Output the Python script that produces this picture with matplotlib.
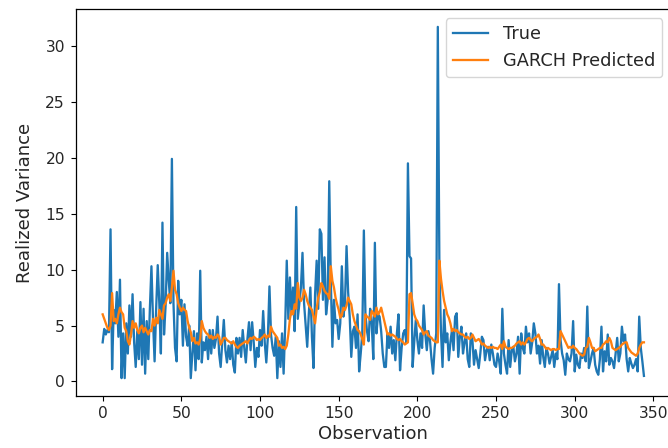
import matplotlib
matplotlib.use("Agg")
import matplotlib.pyplot as plt
import numpy as np

true_values = [
    3.5, 4.7, 4.2, 4.6, 4.4, 13.6, 1.1, 6.4, 5.2, 8.0,
    4.0, 9.1, 0.3, 4.3, 0.3, 5.2, 2.5, 6.8, 4.0, 7.8,
    3.5, 1.3, 4.5, 2.0, 7.1, 1.5, 6.5, 0.7, 5.4, 2.0,
    6.5, 10.3, 5.5, 1.8, 6.5, 10.4, 7.0, 2.5, 14.2, 4.2,
    6.8, 11.5, 9.0, 7.0, 19.9, 7.0, 3.0, 1.8, 9.0, 6.0,
    7.3, 3.2, 6.9, 4.0, 3.2, 5.0, 0.3, 2.5, 4.5, 1.0,
    4.3, 2.0, 9.9, 1.7, 3.5, 2.8, 4.0, 2.0, 4.6, 2.5,
    4.6, 3.0, 3.8, 5.8, 2.5, 1.3, 3.5, 5.5, 2.8, 1.7,
    3.2, 2.0, 3.5, 1.5, 0.8, 3.9, 2.5, 3.9, 2.2, 4.6,
    3.0, 1.7, 3.8, 5.3, 2.8, 5.3, 3.5, 1.3, 3.0, 2.2,
    4.6, 3.2, 6.3, 3.5, 1.7, 4.0, 8.5, 4.2, 3.0, 2.3,
    4.0, 0.3, 3.6, 1.3, 4.3, 0.7, 5.0, 10.8, 5.6, 9.3,
    6.0, 8.4, 4.5, 15.6, 5.6, 7.0, 8.4, 11.5, 7.0, 5.0,
    3.1, 6.0, 8.4, 4.0, 1.2, 7.8, 10.8, 6.5, 13.6, 13.2,
    7.3, 11.1, 6.0, 7.3, 17.9, 9.0, 3.1, 7.3, 5.2, 5.5,
    3.8, 5.2, 10.3, 5.8, 7.0, 12.1, 8.0, 5.8, 2.2, 4.5,
    4.9, 3.0, 6.0, 0.9, 2.5, 4.3, 13.5, 6.0, 4.5, 3.6,
    6.5, 5.2, 2.0, 12.4, 4.3, 6.0, 5.8, 4.5, 2.5, 1.3,
    1.3, 4.3, 3.0, 4.9, 2.5, 3.7, 1.9, 4.3, 6.0, 1.0,
    3.0, 4.3, 4.6, 3.5, 19.5, 11.2, 11.0, 1.3, 3.5, 5.5,
    3.7, 2.5, 4.3, 3.0, 6.8, 4.3, 2.8, 4.5, 3.7, 2.0,
    0.7, 3.0, 4.3, 31.7, 10.3, 4.5, 1.3, 6.4, 3.5, 4.3,
    1.9, 3.5, 4.6, 2.8, 5.8, 6.1, 2.2, 4.0, 4.9, 2.5,
    3.5, 4.3, 2.0, 1.3, 4.3, 3.7, 1.5, 2.8, 2.0, 1.2,
    2.5, 4.0, 3.7, 1.9, 2.8, 3.1, 1.9, 3.3, 2.5, 1.5,
    1.3, 2.5, 1.8, 0.7, 6.5, 2.5, 1.5, 0.7, 3.7, 1.3,
    2.8, 3.1, 1.8, 2.5, 4.0, 0.7, 4.3, 3.0, 2.5, 4.9,
    3.5, 4.3, 2.5, 3.5, 5.2, 4.3, 2.5, 3.2, 1.6, 3.7,
    2.2, 1.3, 3.0, 2.5, 1.6, 2.2, 2.8, 1.3, 2.5, 2.0,
    8.7, 3.7, 2.5, 1.9, 0.6, 2.5, 2.0, 1.8, 2.5, 5.4,
    0.9, 2.4, 1.5, 1.2, 2.5, 2.1, 3.0, 1.8, 6.7, 1.2,
    1.8, 2.5, 3.0, 1.5, 0.9, 0.6, 2.0, 4.9, 0.9, 2.7,
    1.8, 4.2, 1.5, 2.1, 1.8, 1.2, 2.5, 3.9, 1.8, 2.5,
    4.9, 3.6, 4.2, 2.0, 0.9, 2.1, 1.6, 1.2, 1.5, 2.0,
    0.9, 5.8, 3.0, 1.8, 0.5,
]

garch_predicted = [
    6.0, 5.6, 5.2, 4.8, 4.6, 5.0, 7.9, 5.4, 5.6, 5.2,
    6.0, 6.6, 6.2, 6.0, 4.8, 4.5, 3.6, 3.3, 4.2, 5.4,
    4.8, 5.2, 4.6, 4.3, 4.8, 5.0, 4.4, 4.8, 4.5, 4.2,
    4.6, 4.5, 5.6, 5.0, 5.7, 5.2, 6.4, 6.0, 5.6, 6.8,
    7.0, 7.5, 7.8, 7.2, 8.4, 9.9, 8.2, 7.8, 7.0, 6.6,
    6.3, 6.6, 6.4, 6.3, 5.4, 4.8, 4.4, 3.6, 3.9, 3.4,
    3.5, 3.3, 3.8, 5.4, 4.8, 4.5, 4.3, 4.2, 3.9, 4.1,
    3.8, 4.0, 3.9, 4.2, 4.0, 3.3, 3.6, 3.9, 3.9, 3.7,
    3.6, 3.5, 3.4, 3.6, 3.3, 3.1, 3.0, 3.2, 3.3, 3.4,
    3.5, 3.6, 3.4, 3.7, 3.9, 3.8, 4.0, 3.9, 3.7, 3.8,
    3.7, 3.9, 4.0, 4.2, 3.9, 4.1, 4.0, 4.9, 4.5, 4.3,
    4.1, 3.9, 3.2, 3.3, 3.0, 3.1, 2.9, 3.2, 4.2, 5.6,
    6.3, 6.0, 6.9, 6.5, 8.8, 7.5, 7.2, 7.5, 8.2, 7.8,
    7.2, 6.8, 6.6, 6.4, 5.8, 5.2, 6.5, 7.5, 8.0, 8.8,
    8.5, 8.1, 7.9, 7.8, 7.4, 10.3, 9.0, 8.4, 7.5, 6.9,
    6.4, 5.7, 5.9, 6.6, 6.4, 6.8, 7.5, 7.2, 6.9, 6.0,
    5.4, 5.0, 4.6, 4.5, 4.2, 3.8, 3.3, 6.0, 5.8, 5.7,
    5.5, 6.3, 6.1, 5.8, 6.6, 6.0, 6.2, 6.6, 6.0, 5.4,
    4.8, 4.2, 4.3, 4.1, 4.2, 4.1, 4.0, 3.8, 3.7, 3.8,
    3.6, 3.5, 3.3, 3.4, 3.5, 7.8, 7.9, 7.0, 6.0, 5.6,
    5.4, 5.0, 4.8, 4.6, 4.2, 4.4, 4.5, 4.1, 4.0, 3.9,
    3.7, 3.6, 3.5, 3.5, 10.8, 9.2, 8.1, 7.2, 6.6, 6.0,
    5.7, 5.2, 4.5, 4.7, 4.5, 4.6, 4.4, 4.3, 4.2, 4.2,
    4.0, 3.9, 4.0, 3.8, 3.9, 4.2, 3.9, 3.6, 3.7, 3.8,
    3.6, 3.3, 3.4, 3.2, 3.1, 3.0, 3.1, 3.0, 3.1, 3.0,
    3.0, 2.9, 3.1, 3.3, 2.9, 3.6, 3.1, 3.0, 2.9, 3.0,
    3.0, 3.1, 3.2, 3.4, 3.5, 3.6, 3.3, 3.5, 3.3, 3.5,
    3.8, 3.9, 3.7, 3.6, 3.8, 3.9, 4.0, 4.2, 3.8, 3.3,
    3.3, 3.1, 2.9, 3.0, 2.9, 2.8, 2.9, 2.9, 2.8, 2.9,
    2.9, 4.5, 4.2, 3.9, 3.6, 3.3, 3.0, 3.1, 3.0, 3.2,
    3.0, 2.9, 2.7, 2.5, 2.4, 2.3, 2.4, 3.0, 3.1, 3.9,
    3.5, 3.0, 3.0, 2.7, 2.8, 2.9, 3.0, 3.0, 3.3, 3.4,
    3.6, 3.5, 3.9, 3.6, 3.0, 2.9, 2.8, 2.9, 3.0, 3.1,
    3.3, 3.4, 3.5, 3.5, 3.0, 2.8, 2.6, 2.5, 2.4, 2.3,
    2.5, 3.0, 3.3, 3.5, 3.5,
]

series_labels = ["True", "GARCH Predicted"]
x_label = "Observation"
y_label = "Realized Variance"

plt.rcParams.update({
    "font.size": 11.2,
    "lines.linewidth": 1.65,
    "xtick.major.size": 3.8,
    "ytick.major.size": 3.8,
    "xtick.major.pad": 3.8,
    "ytick.major.pad": 3.8,
    "axes.linewidth": 0.9,
    "text.color": "#262626",
    "axes.labelcolor": "#262626",
    "xtick.labelcolor": "#262626",
    "ytick.labelcolor": "#262626",
})

W, H = 668, 448
fig = plt.figure(figsize=(W / 100, H / 100), dpi=100)
left_px, right_px, top_px, bottom_px = 75.6, 671.0, 9.3, 395.7
ax = fig.add_axes([left_px / W, 1 - bottom_px / H,
                   (right_px - left_px) / W, (bottom_px - top_px) / H])

obs = np.arange(len(true_values))
ax.plot(obs, true_values, color="#1f77b4", label=series_labels[0])
ax.plot(np.arange(len(garch_predicted)), garch_predicted, color="#ff7f0e",
        label=series_labels[1])

ax.set_xlabel(x_label, fontsize=13, labelpad=2.5)
ax.set_ylabel(y_label, fontsize=13, labelpad=8)
ax.set_xticks(np.arange(0, 351, 50))
ax.set_yticks(np.arange(0, 31, 5))
ax.legend(loc="upper right", fontsize=12.8)

fig.savefig("out.png", dpi=100)
